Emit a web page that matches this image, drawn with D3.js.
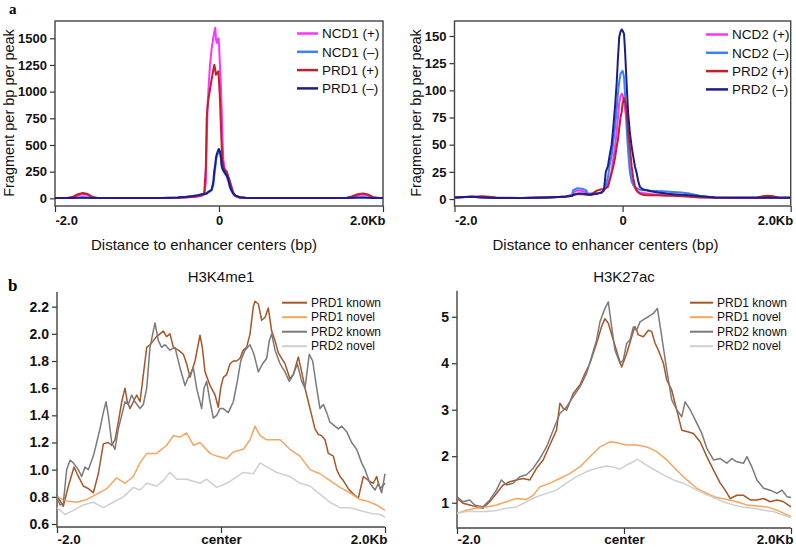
<!DOCTYPE html>
<html>
<head>
<meta charset="utf-8">
<script src="https://cdn.jsdelivr.net/npm/d3@7"></script>
<style>
body { margin: 0; background: #fff; }
svg { font-family: "Liberation Sans", Arial, sans-serif; }
</style>
</head>
<body>
<svg id="fig" width="796" height="547"></svg>
<script>
// ---------- panel a : fragment density around enhancer centers ----------
// distance to centre (bp), left plot
const posA1 = [-2000, -1850, -1790, -1720, -1660, -1600, -1540, -1480, -1300, -1000, -700, -500, -400, -320, -260, -210, -180, -160, -150, -140, -130, -110, -90, -70, -57, -45, -37, -25, -8, 0, 12, 22, 33, 43, 53, 70, 94, 115, 134, 155, 175, 200, 256, 320, 400, 600, 1000, 1400, 1560, 1620, 1690, 1756, 1820, 1880, 1950, 2000];
const ncd1Plus  = [2, 3, 8, 28, 38, 30, 8, 3, 2, 2, 3, 5, 8, 12, 18, 25, 35, 150, 500, 860, 1000, 1250, 1400, 1504, 1560, 1598, 1488, 1457, 1500, 1450, 1237, 1082, 829, 548, 360, 280, 240, 195, 150, 90, 45, 20, 6, 4, 3, 2, 2, 2, 3, 12, 28, 35, 26, 7, 3, 2];
const ncd1Minus = [2, 2, 3, 5, 6, 5, 3, 2, 2, 2, 3, 7, 13, 20, 27, 34, 38, 40, 42, 48, 55, 62, 75, 120, 210, 290, 350, 400, 430, 445, 425, 380, 300, 270, 255, 235, 205, 160, 100, 65, 40, 22, 9, 5, 3, 2, 2, 2, 2, 4, 6, 7, 5, 3, 2, 2];
const prd1Plus  = [3, 4, 12, 38, 50, 40, 12, 4, 3, 3, 4, 6, 10, 15, 20, 28, 45, 300, 750, 850, 924, 1020, 1112, 1200, 1252, 1200, 1158, 1175, 1190, 1100, 924, 700, 485, 360, 297, 265, 250, 200, 156, 100, 50, 25, 8, 5, 4, 3, 3, 3, 5, 18, 38, 45, 35, 10, 4, 3];
const prd1Minus = [3, 3, 4, 6, 8, 6, 4, 3, 3, 3, 4, 8, 15, 22, 30, 38, 42, 45, 48, 55, 62, 70, 82, 150, 260, 320, 380, 420, 455, 462, 440, 400, 310, 280, 265, 240, 215, 170, 110, 70, 45, 25, 10, 6, 4, 3, 3, 3, 3, 5, 7, 8, 6, 4, 3, 3];

// right plot
const posA2 = [-2000, -1800, -1660, -1500, -1200, -900, -700, -600, -590, -540, -480, -430, -420, -380, -300, -250, -222, -200, -175, -150, -130, -111, -90, -71, -55, -40, -25, -11, 0, 17, 30, 48, 65, 88, 108, 127, 147, 167, 187, 207, 240, 286, 350, 420, 524, 600, 700, 800, 921, 1100, 1400, 1600, 1670, 1730, 1790, 1850, 2000];
const ncd2Plus  = [1.5, 2, 1.5, 1, 1, 1.5, 2, 3, 6, 8, 7.5, 6, 4.5, 4, 5, 6, 8, 10, 14, 20, 26, 37, 48, 61, 75, 88, 94, 97, 96, 90, 82, 73, 50, 28, 19, 14, 10, 8, 6.5, 6, 5.5, 5, 4.5, 4, 4, 3.5, 3, 2.5, 2, 1.5, 1.2, 1.2, 1.2, 1.3, 1.2, 1.2, 1.2];
const ncd2Minus = [1.5, 2, 1.5, 1, 1, 1.5, 2, 4, 8, 10, 9.5, 8, 5, 5, 5, 6, 8, 12, 20, 33, 40, 52, 66, 82, 97, 108, 115, 117, 118, 112, 95, 66, 45, 24, 16, 13, 11, 10, 9, 8.5, 8, 8, 7.5, 7.5, 7, 6.5, 6, 5, 3, 1.5, 1.2, 1.2, 1.2, 1.2, 1.2, 1.2, 1.2];
const prd2Plus  = [1.5, 2, 2.5, 1.5, 1, 1.5, 2, 3, 3.5, 4.5, 4.5, 4, 4, 4, 8, 9, 9, 10, 11, 18, 24, 30, 38, 48, 55, 65, 75, 80, 88, 93, 90, 82, 62, 46, 30, 19, 12, 8, 6, 5, 4, 3.5, 3.5, 3.5, 3, 3, 2.5, 2, 1.5, 1.2, 1.2, 1.5, 2.5, 3, 2.5, 1.5, 1.2];
const prd2Minus = [1.5, 2, 1.5, 1, 1, 1.5, 2, 3, 4, 5, 5, 4.5, 4.5, 4, 5, 6, 8, 25, 30, 42, 50, 66, 85, 106, 130, 149, 154, 156, 155, 152, 135, 106, 80, 60, 48, 39, 30, 24, 16, 11, 9, 8, 7, 6, 5, 4.5, 4, 3.5, 2.5, 1.5, 1.2, 1.2, 1.3, 1.4, 1.3, 1.2, 1.2];

const yTicksA1 = [0, 250, 500, 750, 1000, 1250, 1500];
const yTicksA2 = [0, 25, 50, 75, 100, 125, 150];
const xTicksA = ["-2.0", "0", "2.0Kb"];

// ---------- panel b : histone marks, [bp, signal] ----------
const k4Prd1Known = [[-2000,0.81],[-1923,0.73],[-1861,0.88],[-1792,1.02],[-1740,0.95],[-1679,0.88],[-1618,0.86],[-1557,0.83],[-1496,0.97],[-1435,1.19],[-1374,1.2],[-1333,1.18],[-1293,1.22],[-1252,1.35],[-1211,1.5],[-1171,1.6],[-1142,1.5],[-1110,1.45],[-1069,1.5],[-1028,1.55],[-988,1.5],[-947,1.7],[-906,1.9],[-866,1.92],[-825,1.95],[-785,1.98],[-744,2.0],[-703,2.02],[-663,1.98],[-622,2.0],[-581,1.9],[-520,1.88],[-459,1.85],[-419,1.78],[-378,1.68],[-317,1.8],[-256,1.99],[-228,1.9],[-195,1.72],[-134,1.62],[-73,1.55],[-33,1.46],[-4,1.6],[28,1.68],[69,1.7],[110,1.78],[150,1.8],[191,1.8],[232,1.82],[272,1.88],[313,1.9],[354,2.0],[394,2.2],[415,2.24],[455,2.22],[496,2.1],[537,2.12],[577,2.19],[618,2.02],[659,1.95],[699,1.86],[740,1.82],[780,1.78],[841,1.67],[882,1.7],[943,1.83],[984,1.72],[1024,1.6],[1065,1.5],[1106,1.4],[1146,1.3],[1187,1.26],[1228,1.25],[1268,1.22],[1309,1.12],[1370,1.1],[1411,1.0],[1451,0.95],[1492,0.92],[1553,0.86],[1614,0.82],[1675,0.79],[1736,0.95],[1797,0.92],[1858,0.9],[1898,0.95],[1939,0.86],[2000,0.9]];
const k4Prd1Novel = [[-2000,0.8],[-1882,0.77],[-1760,0.76],[-1638,0.78],[-1516,0.82],[-1394,0.86],[-1272,0.94],[-1171,0.9],[-1069,0.95],[-988,1.05],[-906,1.12],[-785,1.12],[-663,1.18],[-581,1.25],[-500,1.24],[-419,1.27],[-337,1.18],[-256,1.2],[-134,1.12],[-53,1.1],[69,1.08],[150,1.13],[272,1.15],[354,1.22],[415,1.32],[476,1.25],[557,1.22],[720,1.22],[841,1.15],[963,1.1],[1085,1.0],[1207,0.97],[1329,0.92],[1451,0.87],[1573,0.83],[1695,0.78],[1776,0.77],[1898,0.74],[2000,0.7]];
const k4Prd2Known = [[-2000,0.8],[-1963,0.74],[-1923,0.75],[-1882,1.0],[-1841,1.07],[-1801,1.05],[-1740,1.0],[-1699,0.95],[-1659,1.02],[-1618,1.0],[-1557,1.1],[-1516,1.2],[-1476,1.3],[-1435,1.42],[-1402,1.5],[-1374,1.4],[-1333,1.2],[-1293,1.15],[-1252,1.3],[-1211,1.4],[-1171,1.5],[-1130,1.48],[-1089,1.55],[-1049,1.5],[-988,1.45],[-947,1.48],[-906,1.6],[-866,1.9],[-805,2.08],[-764,1.95],[-724,1.9],[-683,1.92],[-622,1.88],[-561,1.9],[-500,1.75],[-439,1.62],[-398,1.68],[-337,1.75],[-297,1.6],[-236,1.45],[-207,1.6],[-175,1.65],[-134,1.5],[-93,1.38],[-53,1.4],[-12,1.45],[28,1.45],[89,1.42],[150,1.5],[199,1.65],[240,1.8],[293,1.88],[354,1.92],[402,1.85],[455,1.72],[508,1.78],[557,1.82],[589,1.95],[618,2.0],[659,1.88],[720,1.78],[780,1.72],[833,1.65],[882,1.7],[931,1.78],[984,1.65],[1024,1.6],[1077,1.85],[1118,1.8],[1167,1.6],[1207,1.45],[1248,1.48],[1289,1.42],[1329,1.35],[1370,1.33],[1431,1.3],[1472,1.32],[1533,1.28],[1593,1.2],[1654,1.15],[1715,1.05],[1756,1.0],[1817,0.9],[1878,0.85],[1919,0.9],[1959,0.83],[2000,0.97]];
const k4Prd2Novel = [[-2000,0.72],[-1902,0.67],[-1801,0.7],[-1679,0.74],[-1557,0.76],[-1435,0.72],[-1313,0.76],[-1191,0.8],[-1069,0.87],[-988,0.85],[-906,0.9],[-785,0.88],[-703,0.92],[-622,0.98],[-541,0.93],[-419,0.93],[-256,0.9],[-175,0.93],[-53,0.87],[69,0.9],[150,0.93],[272,0.98],[394,0.97],[476,1.05],[557,1.02],[679,0.98],[841,0.95],[963,0.9],[1085,0.88],[1207,0.82],[1329,0.76],[1451,0.72],[1573,0.72],[1695,0.7],[1817,0.68],[1939,0.67],[2000,0.65]];

const k27Prd1Known = [[-2000,1.09],[-1928,0.99],[-1848,0.95],[-1768,0.91],[-1688,0.88],[-1608,1.02],[-1528,1.2],[-1448,1.38],[-1368,1.45],[-1288,1.49],[-1208,1.52],[-1128,1.49],[-1048,1.74],[-968,1.92],[-888,2.24],[-808,2.56],[-768,3.14],[-728,3.03],[-688,2.99],[-608,3.35],[-528,3.53],[-468,3.78],[-408,4.0],[-328,4.43],[-268,4.79],[-228,4.96],[-188,4.86],[-128,4.5],[-68,4.14],[-28,3.92],[32,4.21],[92,4.57],[132,4.79],[172,4.61],[232,4.57],[292,4.71],[332,4.68],[372,4.43],[412,4.28],[472,4.0],[512,3.64],[572,3.42],[632,2.99],[692,2.56],[752,2.53],[832,2.49],[912,2.31],[992,1.99],[1072,1.7],[1152,1.42],[1212,1.27],[1272,1.09],[1352,1.16],[1432,1.16],[1512,1.06],[1592,1.06],[1672,1.09],[1752,1.02],[1832,1.06],[1912,1.02],[2000,0.91]];
const k27Prd1Novel = [[-2000,0.77],[-1888,0.84],[-1768,0.88],[-1648,0.91],[-1528,0.95],[-1408,1.02],[-1288,1.09],[-1168,1.07],[-1088,1.16],[-1008,1.34],[-888,1.42],[-768,1.52],[-648,1.63],[-528,1.77],[-408,1.99],[-288,2.2],[-168,2.31],[-88,2.29],[32,2.24],[152,2.24],[272,2.2],[392,2.1],[512,1.92],[632,1.7],[752,1.49],[872,1.31],[992,1.2],[1112,1.11],[1232,1.07],[1352,1.02],[1472,0.95],[1592,0.93],[1712,0.91],[1832,0.84],[2000,0.7]];
const k27Prd2Known = [[-2000,1.13],[-1928,1.02],[-1848,1.06],[-1788,0.95],[-1688,0.91],[-1608,1.06],[-1528,1.27],[-1468,1.49],[-1408,1.38],[-1328,1.42],[-1248,1.56],[-1168,1.6],[-1088,1.74],[-1008,1.95],[-928,2.2],[-848,2.56],[-768,2.92],[-688,3.06],[-608,3.28],[-528,3.49],[-448,3.78],[-388,4.14],[-328,4.5],[-288,4.89],[-228,5.18],[-188,5.32],[-148,4.78],[-108,4.28],[-48,4.0],[-8,4.07],[32,4.43],[72,4.5],[112,4.78],[152,4.71],[192,4.89],[252,4.96],[292,5.0],[352,5.07],[400,5.18],[452,4.57],[512,3.85],[572,3.21],[632,3.0],[692,2.85],[732,3.17],[792,3.0],[872,2.71],[932,2.49],[992,2.17],[1072,1.92],[1152,1.95],[1232,1.85],[1292,1.95],[1352,1.88],[1432,1.85],[1472,1.99],[1532,1.77],[1592,1.49],[1672,1.31],[1752,1.27],[1832,1.2],[1892,1.27],[1952,1.13],[2000,1.11]];
const k27Prd2Novel = [[-2000,0.77],[-1888,0.81],[-1768,0.81],[-1648,0.81],[-1528,0.83],[-1408,0.88],[-1288,0.91],[-1168,1.02],[-1048,1.13],[-928,1.2],[-808,1.27],[-688,1.42],[-568,1.56],[-448,1.67],[-328,1.74],[-208,1.79],[-128,1.77],[-48,1.72],[32,1.81],[112,1.88],[160,1.94],[232,1.85],[352,1.72],[472,1.6],[592,1.49],[712,1.42],[832,1.31],[952,1.2],[1072,1.11],[1192,1.02],[1312,0.95],[1432,0.9],[1552,0.88],[1672,0.84],[1792,0.81],[1912,0.73],[2000,0.68]];

const yTicksB1 = [0.6, 0.8, 1.0, 1.2, 1.4, 1.6, 1.8, 2.0, 2.2];
const yTicksB2 = [1, 2, 3, 4, 5];
const xTicksB = ["-2.0", "center", "2.0Kb"];

const colA = { ncdPlus: "#ff33ff", ncdMinus: "#3b82f6", prdPlus: "#c0202c", prdMinus: "#1c1c8c" };
const colB = { k1: "#a65628", n1: "#f5a560", k2: "#7a7a7a", n2: "#cfcfcf" };

const svg = d3.select("#fig");

function panel(o) {
  const g = svg.append("g");
  const x = d3.scaleLinear().domain([-2000, 2000]).range([o.left, o.right]);
  const y = d3.scaleLinear().domain(o.yDomain).range([o.bottom, o.top]);

  // y axis
  const ya = g.append("g").attr("transform", `translate(${o.left},0)`)
    .call(d3.axisLeft(y).tickValues(o.yTicks).tickSize(5).tickSizeOuter(0).tickPadding(3).tickFormat(o.yFormat));
  ya.select(".domain").remove();
  // x axis
  const xa = g.append("g").attr("transform", `translate(0,${o.bottom})`)
    .call(d3.axisBottom(x).tickValues([-2000, 0, 2000]).tickSize(6).tickSizeOuter(0).tickPadding(o.xPad)
      .tickFormat((d, i) => o.xLabels[i]));
  xa.select(".domain").remove();
  xa.selectAll(".tick text").attr("text-anchor", (d, i) => i == 0 ? "start" : (i == 2 ? "end" : "middle"))
    .attr("dx", (d, i) => i == 2 ? 2 : 0);
  g.selectAll(".tick line").attr("stroke", "#333").attr("stroke-width", 1.2);
  g.selectAll(".tick text").attr("fill", "#111").attr("font-size", o.tickFont)
    .attr("font-weight", "bold").attr("font-family", '"Liberation Sans", Arial, sans-serif');
  xa.selectAll(".tick text").attr("font-size", o.xTickFont);

  // frame
  const fr = g.append("g").attr("fill", "none").attr("stroke", "#444").attr("stroke-width", 1.4);
  if (o.box) {
    fr.append("rect").attr("x", o.left).attr("y", o.top)
      .attr("width", o.right - o.left).attr("height", o.bottom - o.top);
  } else {
    fr.append("path").attr("d", `M${o.left},${o.top}V${o.bottom}H${o.right}`);
  }

  // lines
  const line = d3.line().x(d => x(d[0])).y(d => y(d[1]));
  o.series.forEach(s => {
    g.append("path").datum(s.data).attr("d", line)
      .attr("fill", "none").attr("stroke", s.color).attr("stroke-width", o.lw)
      .attr("stroke-linejoin", "round");
  });

  // legend
  const lg = g.append("g").attr("transform", `translate(${o.legend[0]},${o.legend[1]})`);
  o.series.forEach((s, i) => {
    const row = lg.append("g").attr("transform", `translate(0,${i * o.legendStep})`);
    row.append("line").attr("x1", 0).attr("x2", o.legendLen).attr("y1", 0).attr("y2", 0)
      .attr("stroke", s.color).attr("stroke-width", o.lw + 0.5);
    row.append("text").attr("x", o.legendLen + 4).attr("y", 0).attr("dy", "0.35em")
      .attr("font-size", o.legendFont).attr("fill", "#111").text(s.name);
  });

  // titles
  if (o.xTitle) {
    g.append("text").attr("x", o.xTitle[0]).attr("y", o.xTitle[1]).attr("text-anchor", "middle")
      .attr("font-size", 15).attr("fill", "#111").text("Distance to enhancer centers (bp)");
  }
  if (o.yTitle) {
    g.append("text").attr("transform", `translate(${o.yTitle[0]},${o.yTitle[1]}) rotate(-90)`)
      .attr("text-anchor", "middle").attr("font-size", 14.5).attr("fill", "#111")
      .text("Fragment per bp per peak");
  }
  if (o.title) {
    g.append("text").attr("x", (o.left + o.right) / 2).attr("y", o.titleY).attr("text-anchor", "middle")
      .attr("font-size", 15).attr("fill", "#111").text(o.title);
  }
}

const zipA = (pos, vals) => d3.zip(pos, vals);

panel({
  left: 55, right: 383, top: 21, bottom: 206, yDomain: [-72, 1662], yTicks: yTicksA1,
  yFormat: d3.format("d"), xLabels: xTicksA, box: true, tickFont: 13, xTickFont: 13, xPad: 4, lw: 2,
  series: [
    { name: "NCD1 (+)", color: colA.ncdPlus, data: zipA(posA1, ncd1Plus) },
    { name: "NCD1 (\u2013)", color: colA.ncdMinus, data: zipA(posA1, ncd1Minus) },
    { name: "PRD1 (+)", color: colA.prdPlus, data: zipA(posA1, prd1Plus) },
    { name: "PRD1 (\u2013)", color: colA.prdMinus, data: zipA(posA1, prd1Minus) }
  ],
  legend: [297, 33.5], legendStep: 18.3, legendLen: 21, legendFont: 13.5,
  xTitle: [204, 250], yTitle: [13.5, 113]
});

panel({
  left: 454.5, right: 790.7, top: 21, bottom: 206, yDomain: [-6.4, 163.8], yTicks: yTicksA2,
  yFormat: d3.format("d"), xLabels: xTicksA, box: true, tickFont: 13, xTickFont: 13, xPad: 4, lw: 2,
  series: [
    { name: "NCD2 (+)", color: colA.ncdPlus, data: zipA(posA2, ncd2Plus) },
    { name: "NCD2 (\u2013)", color: colA.ncdMinus, data: zipA(posA2, ncd2Minus) },
    { name: "PRD2 (+)", color: colA.prdPlus, data: zipA(posA2, prd2Plus) },
    { name: "PRD2 (\u2013)", color: colA.prdMinus, data: zipA(posA2, prd2Minus) }
  ],
  legend: [706, 34.5], legendStep: 18.3, legendLen: 22, legendFont: 13.5,
  xTitle: [605.5, 250], yTitle: [421, 113]
});

panel({
  left: 57, right: 385, top: 292, bottom: 527, yDomain: [0.578, 2.308], yTicks: yTicksB1,
  yFormat: d3.format(".1f"), xLabels: xTicksB, box: false, tickFont: 14, xTickFont: 13.5, xPad: 1, lw: 1.5,
  series: [
    { name: "PRD1 known", color: colB.k1, data: k4Prd1Known },
    { name: "PRD1 novel", color: colB.n1, data: k4Prd1Novel },
    { name: "PRD2 known", color: colB.k2, data: k4Prd2Known },
    { name: "PRD2 novel", color: colB.n2, data: k4Prd2Novel }
  ],
  legend: [282, 302.7], legendStep: 14.5, legendLen: 25, legendFont: 12,
  title: "H3K4me1", titleY: 282
});

panel({
  left: 457, right: 791, top: 290.7, bottom: 528, yDomain: [0.456, 5.56], yTicks: yTicksB2,
  yFormat: d3.format("d"), xLabels: xTicksB, box: false, tickFont: 14, xTickFont: 13.5, xPad: 0, lw: 1.5,
  series: [
    { name: "PRD1 known", color: colB.k1, data: k27Prd1Known },
    { name: "PRD1 novel", color: colB.n1, data: k27Prd1Novel },
    { name: "PRD2 known", color: colB.k2, data: k27Prd2Known },
    { name: "PRD2 novel", color: colB.n2, data: k27Prd2Novel }
  ],
  legend: [690, 302.7], legendStep: 14.5, legendLen: 23, legendFont: 12,
  title: "H3K27ac", titleY: 282
});

// panel letters
svg.append("text").attr("x", 9).attr("y", 14).attr("font-family", '"Liberation Serif", "Times New Roman", serif')
  .attr("font-weight", "bold").attr("font-size", 15).text("a");
svg.append("text").attr("x", 8).attr("y", 291).attr("font-family", '"Liberation Serif", "Times New Roman", serif')
  .attr("font-weight", "bold").attr("font-size", 17).text("b");
</script>
</body>
</html>
